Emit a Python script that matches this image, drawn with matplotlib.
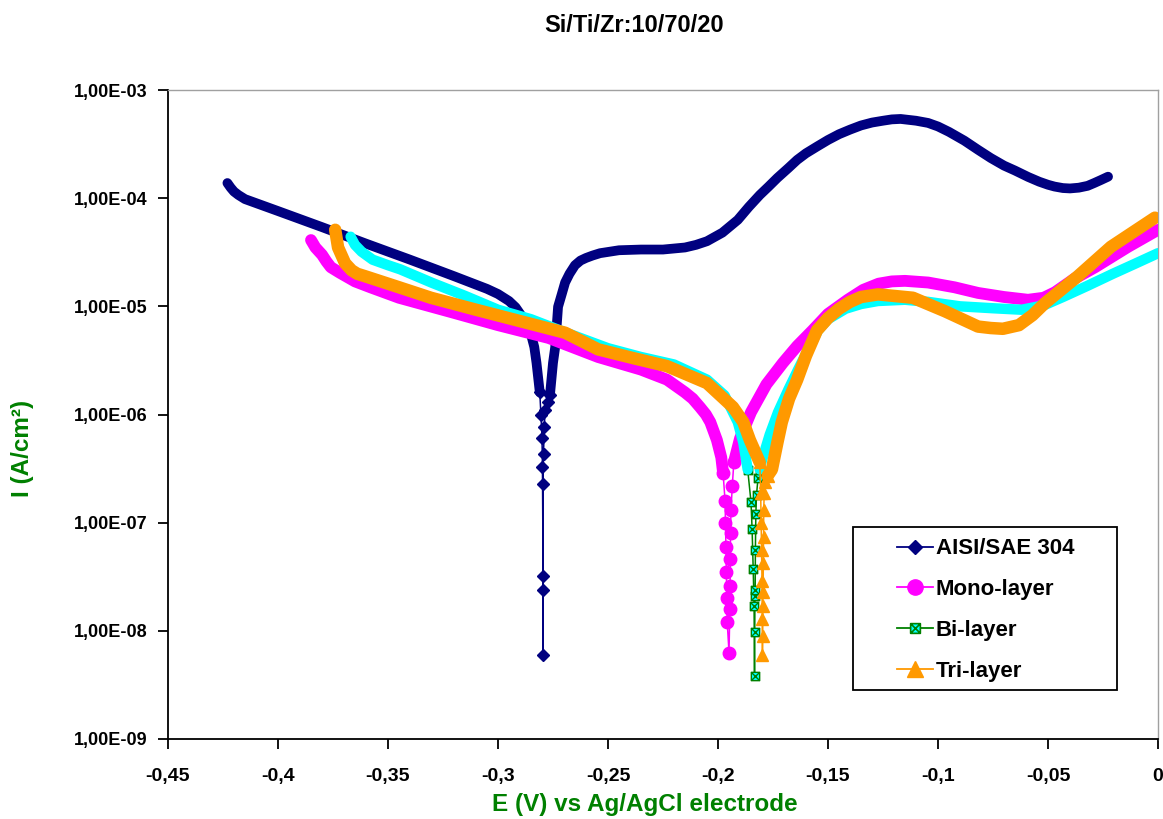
import matplotlib
matplotlib.use("Agg")
import matplotlib.pyplot as plt
from matplotlib.lines import Line2D
from matplotlib.path import Path
from matplotlib.patches import Rectangle
from matplotlib.ticker import FixedLocator, FixedFormatter

# ---------------- data ----------------
title = "Si/Ti/Zr:10/70/20"
x_label = "E (V) vs Ag/AgCl electrode"
y_label = "I (A/cm\u00b2)"
series_names = ["AISI/SAE 304", "Mono-layer", "Bi-layer", "Tri-layer"]

x_ticks = [-0.45, -0.40, -0.35, -0.30, -0.25, -0.20, -0.15, -0.10, -0.05, 0.0]
x_tick_labels = ["-0,45", "-0,4", "-0,35", "-0,3", "-0,25", "-0,2", "-0,15", "-0,1", "-0,05", "0"]
y_ticks = [1e-9, 1e-8, 1e-7, 1e-6, 1e-5, 1e-4, 1e-3]
y_tick_labels = ["1,00E-09", "1,00E-08", "1,00E-07", "1,00E-06", "1,00E-05", "1,00E-04", "1,00E-03"]

# AISI/SAE 304
aisi_cath_E = [-0.423, -0.4215, -0.420, -0.418, -0.415, -0.40, -0.38, -0.36, -0.34, -0.32, -0.305, -0.300,
               -0.295, -0.292, -0.289, -0.287, -0.285, -0.2835, -0.2825, -0.281]
aisi_cath_I = [1.38e-4, 1.25e-4, 1.15e-4, 1.07e-4, 9.8e-5, 7.6e-5, 5.4e-5, 3.8e-5, 2.7e-5, 1.9e-5, 1.45e-5, 1.3e-5,
               1.12e-5, 9.8e-6, 8.0e-6, 6.8e-6, 5.5e-6, 4.2e-6, 3.0e-6, 1.6e-6]
aisi_dip_E = [-0.2810, -0.2805, -0.2800, -0.2798, -0.2795, -0.2795, -0.2795, -0.2795, -0.2793, -0.2790, -0.2785, -0.2775, -0.2764]
aisi_dip_I = [1.6e-6, 1.0e-6, 6.1e-7, 3.3e-7, 3.2e-8, 6.0e-9, 2.4e-8, 2.3e-7, 4.3e-7, 7.7e-7, 1.1e-6, 1.3e-6, 1.5e-6]
aisi_an_E = [-0.2764, -0.275, -0.274, -0.2727, -0.271, -0.2695, -0.2675, -0.265, -0.2625, -0.26, -0.257, -0.2536,
             -0.245, -0.235, -0.225, -0.215, -0.21, -0.205, -0.198, -0.191, -0.186, -0.181, -0.177, -0.173,
             -0.168, -0.164, -0.160, -0.155, -0.150, -0.145, -0.140, -0.135, -0.130, -0.125, -0.121, -0.117,
             -0.110, -0.1045, -0.100, -0.095, -0.088, -0.0818, -0.076, -0.070, -0.065, -0.059, -0.054, -0.050,
             -0.047, -0.0432, -0.040, -0.036, -0.032, -0.029, -0.026, -0.0227]
aisi_an_I = [1.5e-6, 3.0e-6, 4.2e-6, 9.9e-6, 1.3e-5, 1.66e-5, 2.0e-5, 2.4e-5, 2.65e-5, 2.8e-5, 2.95e-5, 3.1e-5,
             3.3e-5, 3.35e-5, 3.35e-5, 3.5e-5, 3.7e-5, 4.0e-5, 4.8e-5, 6.3e-5, 8.3e-5, 1.07e-4, 1.28e-4, 1.54e-4,
             1.9e-4, 2.26e-4, 2.6e-4, 3.0e-4, 3.45e-4, 3.9e-4, 4.3e-4, 4.7e-4, 5.0e-4, 5.2e-4, 5.35e-4, 5.4e-4,
             5.2e-4, 4.96e-4, 4.6e-4, 4.1e-4, 3.4e-4, 2.8e-4, 2.35e-4, 2.0e-4, 1.8e-4, 1.57e-4, 1.42e-4, 1.33e-4,
             1.28e-4, 1.24e-4, 1.23e-4, 1.25e-4, 1.3e-4, 1.38e-4, 1.47e-4, 1.58e-4]

# Mono-layer
mono_cath_E = [-0.385, -0.383, -0.380, -0.378, -0.376, -0.372, -0.365, -0.358, -0.345, -0.32, -0.30, -0.277,
               -0.2545, -0.235, -0.2232, -0.215, -0.2115, -0.2082, -0.2055, -0.2035, -0.2005, -0.1985, -0.1977]
mono_cath_I = [4.1e-5, 3.5e-5, 3.0e-5, 2.6e-5, 2.3e-5, 2.05e-5, 1.7e-5, 1.5e-5, 1.2e-5, 8.7e-6, 6.7e-6, 5.1e-6,
               3.4e-6, 2.6e-6, 2.1e-6, 1.6e-6, 1.4e-6, 1.17e-6, 1.0e-6, 8.5e-7, 5.8e-7, 4.0e-7, 2.9e-7]
mono_dip_E = [-0.1977, -0.1968, -0.1966, -0.1964, -0.1962, -0.1960, -0.1958, -0.1950, -0.1946, -0.1945, -0.1944,
              -0.1943, -0.1941, -0.1935, -0.1928]
mono_dip_I = [2.9e-7, 1.6e-7, 1.0e-7, 6.0e-8, 3.5e-8, 2.0e-8, 1.2e-8, 6.3e-9, 1.6e-8, 2.6e-8, 4.6e-8,
              8.1e-8, 1.3e-7, 2.2e-7, 3.6e-7]
mono_an_E = [-0.1928, -0.190, -0.185, -0.178, -0.1705, -0.164, -0.157, -0.150, -0.141, -0.134, -0.127, -0.121,
             -0.115, -0.1045, -0.0925, -0.0818, -0.070, -0.0591, -0.052, -0.0468, -0.038, -0.0286, -0.0136, 0.0]
mono_an_I = [3.6e-7, 6.0e-7, 1.05e-6, 1.9e-6, 3.0e-6, 4.3e-6, 6.0e-6, 8.5e-6, 1.15e-5, 1.42e-5, 1.62e-5, 1.7e-5,
             1.72e-5, 1.66e-5, 1.5e-5, 1.33e-5, 1.22e-5, 1.15e-5, 1.2e-5, 1.35e-5, 1.8e-5, 2.3e-5, 3.55e-5, 5.1e-5]

# Bi-layer
bi_cath_E = [-0.367, -0.365, -0.362, -0.357, -0.350, -0.3445, -0.33, -0.315, -0.30, -0.285, -0.27, -0.25, -0.235,
             -0.22, -0.205, -0.197, -0.191, -0.1885, -0.1865]
bi_cath_I = [4.4e-5, 3.7e-5, 3.2e-5, 2.7e-5, 2.4e-5, 2.2e-5, 1.65e-5, 1.25e-5, 9.3e-6, 7.6e-6, 5.8e-6, 4.1e-6, 3.4e-6,
             2.9e-6, 2.1e-6, 1.5e-6, 8.5e-7, 5.5e-7, 3.1e-7]
bi_dip_E = [-0.1865, -0.1850, -0.1845, -0.1840, -0.1836, -0.1834, -0.1833, -0.1832, -0.1831, -0.1830, -0.1828,
            -0.1825, -0.1818, -0.1810]
bi_dip_I = [3.1e-7, 1.55e-7, 8.7e-8, 3.7e-8, 1.7e-8, 3.8e-9, 9.8e-9, 2.1e-8, 2.4e-8, 5.6e-8, 1.2e-7,
            1.8e-7, 2.6e-7, 3.1e-7]
bi_an_E = [-0.1810, -0.1805, -0.1765, -0.1727, -0.168, -0.1636, -0.159, -0.1545, -0.150, -0.142, -0.135, -0.1273,
           -0.115, -0.1045, -0.09, -0.075, -0.062, -0.052, -0.0432, -0.032, -0.0205, -0.010, 0.0]
bi_an_I = [3.1e-7, 3.5e-7, 6.5e-7, 1.05e-6, 1.7e-6, 2.6e-6, 4.0e-6, 6.0e-6, 7.6e-6, 9.5e-6, 1.05e-5, 1.12e-5,
           1.15e-5, 1.1e-5, 1.0e-5, 9.6e-6, 9.3e-6, 1.02e-5, 1.22e-5, 1.55e-5, 2.0e-5, 2.5e-5, 3.1e-5]

# Tri-layer
tri_cath_E = [-0.374, -0.3727, -0.3695, -0.3665, -0.364, -0.3605, -0.345, -0.3305, -0.31, -0.29, -0.2695, -0.2545,
              -0.238, -0.2232, -0.205, -0.1932, -0.1885, -0.1855, -0.181]
tri_cath_I = [5.1e-5, 3.5e-5, 2.5e-5, 2.15e-5, 2.0e-5, 1.9e-5, 1.5e-5, 1.2e-5, 9.3e-6, 7.3e-6, 5.7e-6, 4.0e-6,
              3.3e-6, 2.8e-6, 1.95e-6, 1.17e-6, 8.5e-7, 5.8e-7, 3.6e-7]
tri_dip_E = [-0.1810, -0.1806, -0.1804, -0.1802, -0.1800, -0.1799, -0.1798, -0.1797, -0.1796, -0.1795, -0.1794,
             -0.1793, -0.1792, -0.1790, -0.1785, -0.1775]
tri_dip_I = [3.6e-7, 1.9e-7, 1.0e-7, 5.6e-8, 2.9e-8, 1.3e-8, 6.0e-9, 8.9e-9, 1.7e-8, 2.3e-8, 4.2e-8,
             7.4e-8, 1.3e-7, 1.9e-7, 2.4e-7, 2.7e-7]
tri_an_E = [-0.1775, -0.1755, -0.173, -0.171, -0.1677, -0.164, -0.160, -0.155, -0.150, -0.145, -0.140, -0.135,
            -0.1273, -0.1114, -0.0968, -0.0818, -0.076, -0.0705, -0.0632, -0.057, -0.0514, -0.0364, -0.0214, -0.0014]
tri_an_I = [2.7e-7, 3.1e-7, 5.5e-7, 8.5e-7, 1.4e-6, 2.1e-6, 3.5e-6, 6.0e-6, 7.8e-6, 9.5e-6, 1.1e-5, 1.22e-5,
            1.29e-5, 1.2e-5, 9.0e-6, 6.5e-6, 6.3e-6, 6.2e-6, 6.7e-6, 8.3e-6, 1.07e-5, 1.9e-5, 3.55e-5, 6.6e-5]

# ---------------- style ----------------
FONT = ["Liberation Sans", "DejaVu Sans"]
plt.rcParams["font.family"] = FONT
plt.rcParams["font.weight"] = "bold"

NAVY = "#000080"
MAGENTA = "#FF00FF"
CYAN = "#00FFFF"
GREEN = "#008000"
ORANGE = "#FF9900"

# square with an X inside
sqx = Path(
    [(-1, -1), (1, -1), (1, 1), (-1, 1), (-1, -1), (-1, -1), (1, 1), (-1, 1), (1, -1)],
    [Path.MOVETO, Path.LINETO, Path.LINETO, Path.LINETO, Path.CLOSEPOLY,
     Path.MOVETO, Path.LINETO, Path.MOVETO, Path.LINETO],
)

fig = plt.figure(figsize=(11.63, 8.19), dpi=100)
ax = fig.add_axes([168 / 1163, 1 - 739 / 819, 990 / 1163, 649 / 819])


def draw(cE, cI, dE, dI, aE, aI, color, linecolor, marker, ms, mfc, mec, band, z):
    ax.plot(dE, dI, color=linecolor, lw=1.1, marker=marker, ms=ms, mfc=mfc, mec=mec, mew=1.0, zorder=z)
    ax.plot(cE, cI, color=color, lw=band, solid_capstyle="round", solid_joinstyle="round", zorder=z)
    ax.plot(aE, aI, color=color, lw=band, solid_capstyle="round", solid_joinstyle="round", zorder=z)


draw(aisi_cath_E, aisi_cath_I, aisi_dip_E, aisi_dip_I, aisi_an_E, aisi_an_I,
     NAVY, NAVY, "D", 6, NAVY, NAVY, 7.0, 2)
draw(mono_cath_E, mono_cath_I, mono_dip_E, mono_dip_I, mono_an_E, mono_an_I,
     MAGENTA, MAGENTA, "o", 9, MAGENTA, MAGENTA, 8.5, 3)
draw(bi_cath_E, bi_cath_I, bi_dip_E, bi_dip_I, bi_an_E, bi_an_I,
     CYAN, GREEN, sqx, 6, CYAN, GREEN, 7.5, 4)
draw(tri_cath_E, tri_cath_I, tri_dip_E, tri_dip_I, tri_an_E, tri_an_I,
     ORANGE, ORANGE, "^", 8, ORANGE, ORANGE, 9.0, 5)

ax.set_yscale("log")
ax.set_xlim(-0.45, 0.0)
ax.set_ylim(1e-9, 1e-3)
ax.xaxis.set_major_locator(FixedLocator(x_ticks))
ax.xaxis.set_major_formatter(FixedFormatter(x_tick_labels))
ax.yaxis.set_major_locator(FixedLocator(y_ticks))
ax.yaxis.set_major_formatter(FixedFormatter(y_tick_labels))
ax.yaxis.set_minor_locator(FixedLocator([]))
ax.tick_params(axis="both", direction="out", length=7, width=1.3, color="black")
ax.tick_params(axis="y", labelsize=13, pad=8)
ax.tick_params(axis="x", labelsize=14, pad=14)
for lab in ax.get_xticklabels() + ax.get_yticklabels():
    lab.set_fontweight("bold")

for s in ("left", "bottom"):
    ax.spines[s].set_color("black")
    ax.spines[s].set_linewidth(1.3)
for s in ("top", "right"):
    ax.spines[s].set_color("#a0a0a0")
    ax.spines[s].set_linewidth(1.0)

fig.text(634 / 1163, 1 - 26 / 819, title, ha="center", va="center", fontsize=17, fontweight="bold", color="black")
fig.text(645 / 1163, 1 - 805 / 819, x_label, ha="center", va="center", fontsize=17.5, fontweight="bold", color=GREEN)
fig.text(22 / 1163, 1 - 448 / 819, y_label, ha="center", va="center", rotation=90, fontsize=17.5,
         fontweight="bold", color=GREEN)

# legend box
ax.add_patch(Rectangle((0.692, 0.0755), 0.267, 0.2515, transform=ax.transAxes, facecolor="white",
                       edgecolor="black", lw=1.3, zorder=6))
handles = [
    Line2D([], [], color=NAVY, lw=1.3, marker="D", ms=7, mfc=NAVY, mec=NAVY),
    Line2D([], [], color=MAGENTA, lw=1.3, marker="o", ms=11, mfc=MAGENTA, mec=MAGENTA),
    Line2D([], [], color=GREEN, lw=1.3, marker=sqx, ms=7, mfc=CYAN, mec=GREEN, mew=1.2),
    Line2D([], [], color=ORANGE, lw=1.3, marker="^", ms=11, mfc=ORANGE, mec=ORANGE),
]
leg = ax.legend(handles, series_names, loc="upper left", bbox_to_anchor=(0.7364, 0.309), frameon=False,
                borderpad=0, borderaxespad=0, handlelength=1.6, handletextpad=0.15, labelspacing=0.89,
                prop={"family": FONT, "weight": "bold", "size": 16})
leg.set_zorder(7)

fig.savefig("out.png", dpi=100)
